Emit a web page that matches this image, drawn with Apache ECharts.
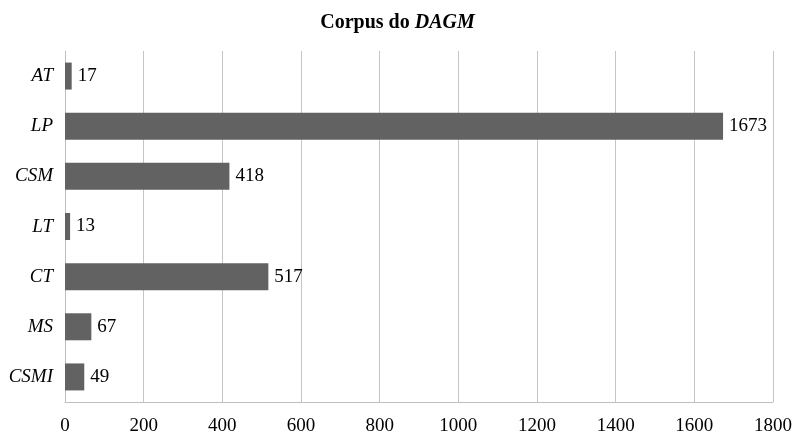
<!DOCTYPE html>
<html>
<head>
<meta charset="utf-8">
<script src="https://cdn.jsdelivr.net/npm/echarts@6/dist/echarts.min.js"></script>
<style>html,body{margin:0;padding:0;background:#fff;}#c{width:795px;height:436px;}</style>
</head>
<body>
<div id="c"></div>
<script>
const categories = ['AT', 'LP', 'CSM', 'LT', 'CT', 'MS', 'CSMI'];
const values = [17, 1673, 418, 13, 517, 67, 49];
const xTicks = [0, 200, 400, 600, 800, 1000, 1200, 1400, 1600, 1800];

const chart = echarts.init(document.getElementById('c'));
chart.setOption({
  animation: false,
  backgroundColor: '#ffffff',
  title: {
    text: '{a|Corpus do }{b|DAGM}',
    left: 'center',
    top: 8,
    textStyle: {
      rich: {
        a: { fontFamily: 'Liberation Serif', fontWeight: 'bold', fontSize: 20, color: '#000' },
        b: { fontFamily: 'Liberation Serif', fontWeight: 'bold', fontStyle: 'italic', fontSize: 20, color: '#000' }
      }
    }
  },
  grid: { left: 65, right: 22, top: 51, bottom: 34, containLabel: false },
  xAxis: {
    type: 'value',
    min: xTicks[0],
    max: xTicks[xTicks.length - 1],
    interval: 200,
    axisLine: { show: true, lineStyle: { color: '#bfbfbf', width: 1 } },
    axisTick: { show: false },
    splitLine: { show: true, lineStyle: { color: '#c4c4c4', width: 1 } },
    axisLabel: { fontFamily: 'Liberation Serif', fontSize: 19, color: '#000', margin: 15, formatter: v => String(v) }
  },
  yAxis: {
    type: 'category',
    inverse: true,
    data: categories,
    axisLine: { show: true, lineStyle: { color: '#bfbfbf', width: 1 } },
    axisTick: { show: false },
    axisLabel: { fontFamily: 'Liberation Serif', fontStyle: 'italic', fontSize: 19, color: '#000', margin: 12 }
  },
  series: [{
    type: 'bar',
    data: values,
    barWidth: 27,
    itemStyle: { color: '#626262' },
    label: {
      show: true,
      position: 'right',
      distance: 6,
      fontFamily: 'Liberation Serif',
      fontSize: 19,
      color: '#000'
    }
  }]
});
</script>
</body>
</html>
